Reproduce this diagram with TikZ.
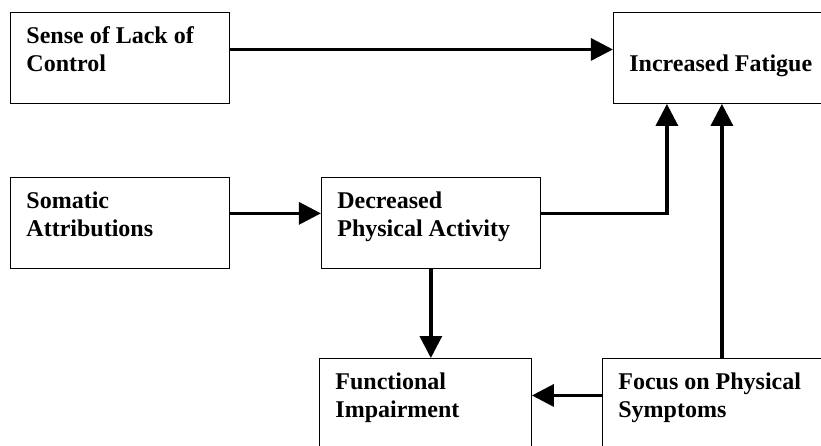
\documentclass[tikz,border=0pt]{standalone}
\usepackage{fontspec}
\setmainfont{Liberation Serif}
\usetikzlibrary{arrows.meta,positioning}
\newcommand{\boxtext}[2]{\parbox[c][68pt][t]{#1}{\strut #2}}

\begin{document}
\begin{tikzpicture}[x=1pt, y=-1pt, node distance=1cm,
				box/.style={rectangle, draw, line width=0.9pt, minimum width=219pt, minimum height=91pt, inner sep=0pt, font=\fontsize{24}{28}\selectfont\bfseries},
				link/.style={line width=3.3pt},
				>={Triangle[length=22pt, width=22pt]}]
				\clip (0,0) rectangle (821,445);
				\node[box, anchor=north west] (sense) at (10,12) {\boxtext{187pt}{Sense of Lack of\\Control}};
				\node[box, right=383pt of sense] (fatigue) {\boxtext{187pt}{\\Increased Fatigue}};
				\node[box, below=73pt of sense] (somatic) {\boxtext{187pt}{Somatic\\Attributions}};
				\node[box, right=91pt of somatic] (decreased) {\boxtext{187pt}{Decreased\\Physical Activity}};
				\node[box, minimum width=212pt, anchor=north west] (functional) at (319,358) {\boxtext{180pt}{Functional\\Impairment}};
				\node[box, right=70pt of functional] (focus) {\boxtext{187pt}{Focus on Physical\\Symptoms}};
				
				\draw[->, link] ([yshift=8.5pt]sense.east) -- ([yshift=8.5pt]fatigue.west);
				\draw[->, link] ([yshift=9.5pt]somatic.east) -- ([yshift=9.5pt]decreased.west);
				\draw[->, link] ([yshift=9.5pt]decreased.east) -| ([xshift=54pt]fatigue.south west);
				\draw[->, link] ([xshift=120pt]focus.north west) -- ([xshift=109pt]fatigue.south west);
				\draw[->, link] (decreased.south) -- (decreased.south |- functional.north);
				\draw[->, link] ([yshift=8.5pt]focus.west) -- ([yshift=8.5pt]functional.east);
			\end{tikzpicture}
\end{document}
